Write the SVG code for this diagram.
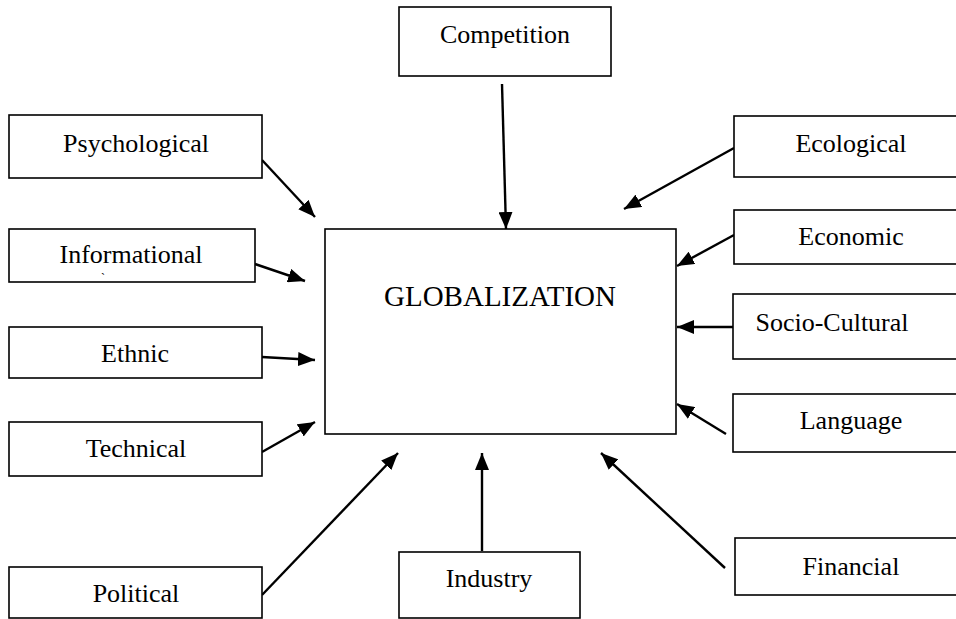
<svg xmlns="http://www.w3.org/2000/svg" width="956" height="619" viewBox="0 0 956 619">
<style>
.box{fill:#fff;stroke:#000;stroke-width:1.6}
text{fill:#000;text-anchor:middle}
.arr{stroke:#000;stroke-width:2.4;fill:none;marker-end:url(#ah)}
</style>
<defs>
<marker id="ah" markerUnits="userSpaceOnUse" markerWidth="18" markerHeight="14" refX="17" refY="7" orient="auto">
<path d="M0,0 L17,7 L0,14 z" fill="#000"/>
</marker>
</defs>
<rect width="956" height="619" fill="#fff"/>
<g id="connectors">
<line class="arr" x1="502" y1="84" x2="506" y2="229"/>
<line class="arr" x1="262" y1="160" x2="315" y2="217"/>
<line class="arr" x1="255" y1="264" x2="305" y2="281"/>
<line class="arr" x1="262" y1="357" x2="315" y2="360"/>
<line class="arr" x1="262" y1="452" x2="315" y2="422"/>
<line class="arr" x1="262" y1="595" x2="398" y2="453"/>
<line class="arr" x1="482" y1="551" x2="482" y2="453"/>
<line class="arr" x1="725" y1="568" x2="601" y2="453"/>
<line class="arr" x1="726" y1="434" x2="677" y2="404"/>
<line class="arr" x1="734" y1="327" x2="677" y2="327"/>
<line class="arr" x1="734" y1="235" x2="677" y2="266"/>
<line class="arr" x1="734" y1="148" x2="624" y2="209"/>
</g>
<g font-family="Liberation Serif, Times New Roman, serif" font-size="26">
<g id="globalization">
<rect class="box" x="325" y="229" width="351" height="205"/>
<text x="500" y="306" font-size="29">GLOBALIZATION</text>
</g>
<g id="competition">
<rect class="box" x="399" y="7" width="212" height="69"/>
<text x="505" y="43">Competition</text>
</g>
<g id="psychological">
<rect class="box" x="9" y="115" width="253" height="63"/>
<text x="136" y="152">Psychological</text>
</g>
<g id="informational">
<rect class="box" x="9" y="229" width="246" height="53"/>
<text x="131" y="263">Informational</text>
<text x="103" y="282" font-size="12">`</text>
</g>
<g id="ethnic">
<rect class="box" x="9" y="327" width="253" height="51"/>
<text x="135" y="362">Ethnic</text>
</g>
<g id="technical">
<rect class="box" x="9" y="422" width="253" height="54"/>
<text x="136" y="457">Technical</text>
</g>
<g id="political">
<rect class="box" x="9" y="567" width="253" height="51"/>
<text x="136" y="602">Political</text>
</g>
<g id="industry">
<rect class="box" x="399" y="552" width="181" height="66"/>
<text x="489" y="587">Industry</text>
</g>
<g id="financial">
<rect class="box" x="735" y="538" width="230" height="57"/>
<text x="851" y="575">Financial</text>
</g>
<g id="language">
<rect class="box" x="733" y="394" width="232" height="58"/>
<text x="851" y="429">Language</text>
</g>
<g id="socio-cultural">
<rect class="box" x="733" y="294" width="232" height="65"/>
<text x="832" y="331">Socio-Cultural</text>
</g>
<g id="economic">
<rect class="box" x="734" y="210" width="231" height="54"/>
<text x="851" y="245">Economic</text>
</g>
<g id="ecological">
<rect class="box" x="734" y="116" width="231" height="61"/>
<text x="851" y="152">Ecological</text>
</g>
</g>
</svg>
